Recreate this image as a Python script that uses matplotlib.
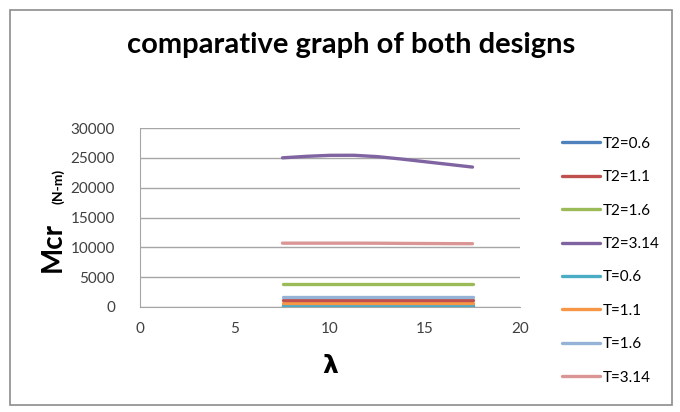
import matplotlib
matplotlib.use("Agg")
import matplotlib.pyplot as plt
from matplotlib.patches import Rectangle

plt.rcParams['font.family'] = ['Lato', 'DejaVu Sans']

# values
lam = [7.5, 8.75, 10, 11.25, 12.5, 13.75, 15, 16.25, 17.5]
labels = ['T2=0.6', 'T2=1.1', 'T2=1.6', 'T2=3.14', 'T=0.6', 'T=1.1', 'T=1.6', 'T=3.14']
t2_06 = [250] * 9
t2_11 = [1220] * 9
t2_16 = [3900] * 9
t2_314 = [25000, 25250, 25420, 25430, 25200, 24800, 24350, 23900, 23450]
t_06 = [300] * 9
t_11 = [720] * 9
t_16 = [1750] * 9
t_314 = [10700, 10700, 10700, 10700, 10690, 10660, 10640, 10620, 10610]
colors = ['#4F81BD', '#C0504D', '#9BBB59', '#8064A2', '#4BACC6', '#F79646', '#95B3D7', '#D99694']

fig = plt.figure(figsize=(6.8, 4.12), dpi=100)
fig.patches.append(Rectangle((10/680, 1 - 405/412), 662/680, 395/412, transform=fig.transFigure,
                             fill=False, edgecolor='#8c8c8c', linewidth=1.2))

ax = fig.add_axes([140/680, 1 - 307/412, 380/680, 179/412])
series = [t2_06, t2_11, t2_16, t2_314, t_06, t_11, t_16, t_314]
# draw order so the light blue sits on top like in the original
order = [0, 4, 5, 1, 6, 2, 7, 3]
lines = {}
for i in order:
    ln, = ax.plot(lam, series[i], color=colors[i], linewidth=2.4, solid_capstyle='round',
                  solid_joinstyle='round', label=labels[i])
    lines[i] = ln

ax.set_xlim(0, 20)
ax.set_ylim(0, 30000)
ax.set_xticks([0, 5, 10, 15, 20])
ax.set_yticks(range(0, 30001, 5000))
ax.tick_params(length=0, labelsize=11, colors='#404040', pad=11)
ax.tick_params(axis='y', pad=18)
ax.grid(axis='y', color='#a6a6a6', linewidth=1)
ax.set_axisbelow(True)
for s in ['top', 'right']:
    ax.spines[s].set_visible(False)
for s in ['left', 'bottom']:
    ax.spines[s].set_color('#a6a6a6')

fig.text(351/680, 1 - 45/412, 'comparative graph of both designs', ha='center', va='center',
         fontsize=21, fontweight='bold')
fig.text(330/680, 1 - 366/412, 'λ', ha='center', va='center', fontsize=18, fontweight='bold',
         family=['DejaVu Sans'])
fig.text(53/680, 1 - 247/412, 'Mcr', ha='center', va='center', fontsize=20, fontweight='bold', rotation=90)
fig.text(58/680, 1 - 186/412, '(N-m)', ha='center', va='center', fontsize=10, fontweight='bold', rotation=90)

leg = fig.legend([lines[i] for i in range(8)], labels, loc='upper left',
                 bbox_to_anchor=(548/680, 1 - 123/412), frameon=False, fontsize=11,
                 handlelength=2.5, handletextpad=0.2, labelspacing=1.27)

fig.savefig('out.png', dpi=100)
